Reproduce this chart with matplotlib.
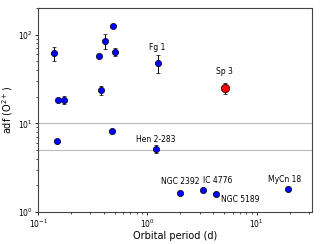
import matplotlib.pyplot as plt
import numpy as np

# Orbital period (d) and adf(O2+)
period = [0.141, 0.153, 0.174, 0.363, 0.378, 0.406, 0.481, 0.51, 0.15, 0.474,
          1.24, 1.19, 1.98, 3.24, 4.27, 19.2]
adf = [62, 18.4, 18.4, 57, 23.7, 86, 124, 64, 6.4, 8.1,
       47.7, 5.15, 1.66, 1.76, 1.61, 1.81]
adf_err = [11, 0, 2, 0, 3, 17, 0, 7, 0, 0,
           11, 0.5, 0, 0, 0, 0]

sp3_period = [5.08]
sp3_adf = [25]
sp3_err = [3.5]

# name -> (index, x offset pt, y offset pt, ha)
labels = {
    "Fg 1": (10, 0, 9.4, "center"),
    "Hen 2-283": (11, 0, 5, "center"),
    "NGC 2392": (12, 0, 5.8, "center"),
    "IC 4776": (13, 0, 5, "left"),
    "NGC 5189": (14, 3.6, -5.8, "left"),
    "MyCn 18": (15, -2, 5, "center"),
}

fig = plt.figure(figsize=(3.2, 2.44), dpi=100)
ax = fig.add_axes([0.119, 0.131, 0.856, 0.836])

ax.axhline(10, color="#bbbbbb", lw=0.8, zorder=0)
ax.axhline(5, color="#bbbbbb", lw=0.8, zorder=0)

ax.errorbar(period, adf, yerr=adf_err, fmt="o", color="blue", mec="black",
            mew=0.5, ms=4.5, ecolor="black", elinewidth=0.7, capsize=1.5, capthick=0.7)
ax.errorbar(sp3_period, sp3_adf, yerr=sp3_err, fmt="o", color="red", mec="black",
            mew=0.5, ms=6, ecolor="black", elinewidth=0.7, capsize=1.5, capthick=0.7)

for name, (i, dx, dy, ha) in labels.items():
    ax.annotate(name, (period[i], adf[i]), xytext=(dx, dy), textcoords="offset points",
                fontsize=5.5, ha=ha, va="baseline")
ax.annotate("Sp 3", (sp3_period[0], sp3_adf[0]), xytext=(0, 10.5), textcoords="offset points",
            fontsize=5.5, ha="center", va="baseline")

ax.set_xscale("log")
ax.set_yscale("log")
ax.set_xlim(0.1, 32)
ax.set_ylim(1, 200)
ax.set_xlabel("Orbital period (d)", fontsize=7, labelpad=1)
ax.set_ylabel("adf (O$^{2+}$)", fontsize=7, labelpad=2)
ax.tick_params(labelsize=5.5, length=2.5, width=0.6, pad=1.5)
ax.tick_params(which="minor", length=1.5, width=0.5)
for s in ax.spines.values():
    s.set_color("#444444")
    s.set_linewidth(0.8)

fig.savefig("out.png", dpi=100)
